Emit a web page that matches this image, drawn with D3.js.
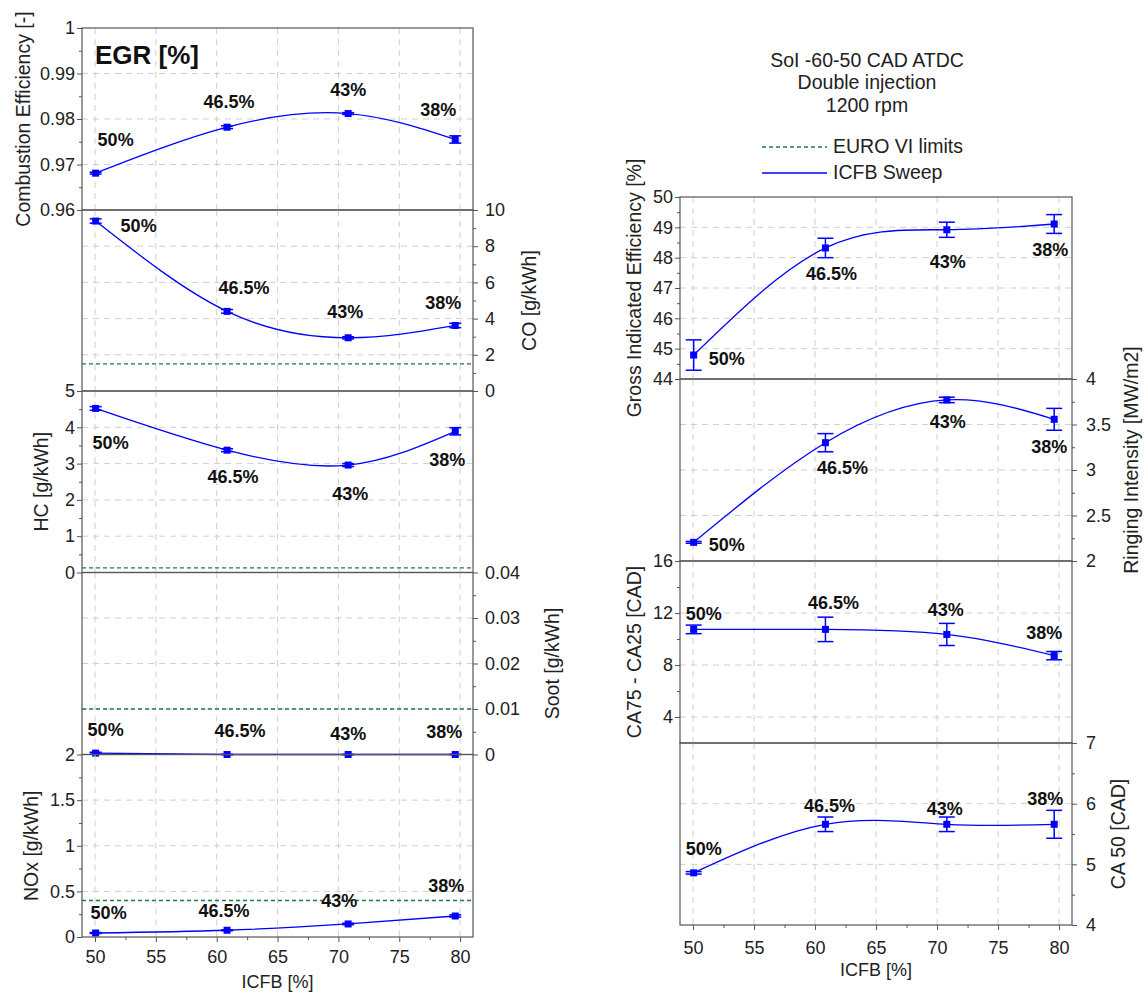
<!DOCTYPE html>
<html lang="en">
<head>
<meta charset="UTF-8">
<script src="https://cdn.jsdelivr.net/npm/d3@7"></script>
<title>ICFB sweep</title>
<style>
  body { margin: 0; background: #fff; }
  svg text { font-family: "Liberation Sans", Arial, sans-serif; }
</style>
</head>
<body>
<script>
    // ICFB sweep, 4 operating points (EGR rate written next to each point)
    const icfb = [50.05, 60.85, 70.8, 79.6];
    const egrLabels = ["50%", "46.5%", "43%", "38%"];
    const xTicks = [50, 55, 60, 65, 70, 75, 80];

    // left column
    const combEff = [0.9681, 0.9782, 0.9812, 0.9755];
    const combEffErr = [0.0002, 0.0003, 0.0002, 0.0008];
    const co = [9.39, 4.40, 2.94, 3.62];
    const coErr = [0.12, 0.10, 0.06, 0.12];
    const hc = [4.52, 3.37, 2.96, 3.89];
    const hcErr = [0.05, 0.04, 0.04, 0.10];
    const soot = [0.0003, 0, 0, 0];
    const sootErr = [0.0002, 0, 0, 0];
    const nox = [0.044, 0.074, 0.143, 0.23];
    const noxErr = [0.005, 0.005, 0.008, 0.012];

    // right column
    const gie = [44.79, 48.32, 48.92, 49.11];
    const gieErr = [0.5, 0.32, 0.25, 0.31];
    const ringing = [2.205, 3.30, 3.77, 3.557];
    const ringingErr = [0.01, 0.10, 0.03, 0.12];
    const ca7525 = [10.74, 10.74, 10.35, 8.72];
    const ca7525Err = [0.33, 0.94, 0.85, 0.32];
    const ca50 = [4.86, 5.66, 5.66, 5.66];
    const ca50Err = [0.02, 0.12, 0.12, 0.23];

    // EURO VI limits [g/kWh]
    const euroCO = 1.5, euroHC = 0.13, euroSoot = 0.01, euroNOx = 0.4;

    // tick labels
    const ceTicks = [0.96, 0.97, 0.98, 0.99, 1];
    const coTicks = [0, 2, 4, 6, 8, 10];
    const hcTicks = [0, 1, 2, 3, 4, 5];
    const sootTicks = [0, 0.01, 0.02, 0.03, 0.04];
    const noxTicks = [0, 0.5, 1, 1.5, 2];
    const gieTicks = [44, 45, 46, 47, 48, 49, 50];
    const ringTicks = [2, 2.5, 3, 3.5, 4];
    const caDurTicks = [4, 8, 12, 16];
    const ca50Ticks = [4, 5, 6, 7];

    const titleLines = ["SoI -60-50 CAD ATDC", "Double injection", "1200 rpm"];
    const legendItems = ["EURO VI limits", "ICFB Sweep"];

    // ---------------- layout ----------------
    const BLUE = "#0000ff", GREEN = "#1b7d48", AXIS = "#555", GRID = "#cfcfcf";
    const xDomain = [48.93, 81.06];
    const cols = [{x0: 82, x1: 473, cap: 12, mark: 7, padL: 2, padR: 7, bottomPad: 8, xTitleY: 988},
                  {x0: 680, x1: 1072, cap: 16, mark: 7, padL: 2, padR: 9, bottomPad: 11, xTitleY: 976}];

    const panels = [
        {col: 0, y0: 28, y1: 210, side: "left", domain: [0.96, 1], ticks: ceTicks,
            title: "Combustion Efficiency [-]", titleX: 30, values: combEff, errs: combEffErr,
            offs: [[20, -33], [2, -25], [0, -24], [-17, -30]]},
        {col: 0, y0: 210, y1: 391, side: "right", domain: [0, 10], ticks: coTicks,
            title: "CO [g/kWh]", titleX: 536, values: co, errs: coErr, limit: euroCO,
            offs: [[43, 5], [17, -24], [-3, -26], [-12, -23]]},
        {col: 0, y0: 391, y1: 572.5, side: "left", domain: [0, 5], ticks: hcTicks,
            title: "HC [g/kWh]", titleX: 48, values: hc, errs: hcErr, limit: euroHC,
            offs: [[15, 34], [6, 27], [2, 29], [-8, 28]]},
        {col: 0, y0: 572.5, y1: 754.5, side: "right", domain: [0, 0.04], ticks: sootTicks,
            title: "Soot [g/kWh]", titleX: 559, values: soot, errs: sootErr, limit: euroSoot,
            offs: [[10, -23], [13, -24], [0, -21], [-11, -23]]},
        {col: 0, y0: 754.5, y1: 937, side: "left", domain: [0, 2], ticks: noxTicks,
            title: "NOx [g/kWh]", titleX: 38, values: nox, errs: noxErr, limit: euroNOx, xAxis: true,
            offs: [[13, -20], [-3, -20], [-9, -23], [-9, -30]]},

        {col: 1, y0: 197, y1: 379, side: "left", domain: [44, 50], ticks: gieTicks,
            title: "Gross Indicated Efficiency [%]", titleX: 641, values: gie, errs: gieErr,
            offs: [[33, 4], [6, 26], [1, 32], [-4, 26]]},
        {col: 1, y0: 379, y1: 561, side: "right", domain: [2, 4], ticks: ringTicks,
            title: "Ringing Intensity [MW/m2]", titleX: 1138, titleShift: -10, values: ringing, errs: ringingErr,
            offs: [[33, 2], [17, 25], [1, 22], [-5, 27]]},
        {col: 1, y0: 561, y1: 743, side: "left", domain: [2, 16], ticks: caDurTicks,
            title: "CA75 - CA25 [CAD]", titleX: 641, values: ca7525, errs: ca7525Err,
            offs: [[10, -16], [8, -27], [-1, -25], [-10, -23]]},
        {col: 1, y0: 743, y1: 925, side: "right", domain: [4, 7], ticks: ca50Ticks,
            title: "CA 50 [CAD]", titleX: 1125, values: ca50, errs: ca50Err, xAxis: true,
            offs: [[10, -24], [4, -19], [-2, -16], [-9, -26]]}
    ];

    const fmt = v => String(+v.toFixed(4));
    // minor ticks halfway between the major ones
    const halves = t => d3.pairs(t).map(([a, b]) => +((a + b) / 2).toFixed(6));

    const svg = d3.select("body").append("svg").attr("width", 1148).attr("height", 994);

    let draw_panel = (p) => {
        const c = cols[p.col];
        const x = d3.scaleLinear().domain(xDomain).range([c.x0, c.x1]);
        const y = d3.scaleLinear().domain(p.domain).range([p.y1, p.y0]);
        const g = svg.append("g");

        // dashed grid
        g.append("g").selectAll("line").data(xTicks).join("line")
            .attr("x1", d => x(d)).attr("x2", d => x(d))
            .attr("y1", p.y0).attr("y2", p.y1)
            .attr("stroke", GRID).attr("stroke-dasharray", "6,5");
        g.append("g").selectAll("line")
            .data(p.ticks.filter(t => t > p.domain[0] && t < p.domain[1])).join("line")
            .attr("x1", c.x0).attr("x2", c.x1)
            .attr("y1", d => y(d)).attr("y2", d => y(d))
            .attr("stroke", GRID).attr("stroke-dasharray", "6,5");

        // EURO VI limit
        if (p.limit !== undefined) {
            g.append("line")
                .attr("x1", c.x0).attr("x2", c.x1)
                .attr("y1", y(p.limit)).attr("y2", y(p.limit))
                .attr("stroke", GREEN).attr("stroke-width", 1.3).attr("stroke-dasharray", "4,3");
        }

        const pts = icfb.map((v, i) => ({x: v, y: p.values[i], e: p.errs[i], lab: egrLabels[i], off: p.offs[i]}));

        // smoothed curve through the points
        const line = d3.line().curve(d3.curveNatural).x(d => x(d.x)).y(d => y(d.y));
        g.append("path").datum(pts).attr("d", line)
            .attr("fill", "none").attr("stroke", BLUE).attr("stroke-width", 1.3);

        // error bars
        const eb = g.append("g").attr("stroke", BLUE).attr("stroke-width", 1.5);
        eb.selectAll(".v").data(pts).join("line").attr("class", "v")
            .attr("x1", d => x(d.x)).attr("x2", d => x(d.x))
            .attr("y1", d => y(d.y - d.e)).attr("y2", d => y(d.y + d.e));
        eb.selectAll(".lo").data(pts).join("line").attr("class", "lo")
            .attr("x1", d => x(d.x) - c.cap / 2).attr("x2", d => x(d.x) + c.cap / 2)
            .attr("y1", d => y(d.y - d.e)).attr("y2", d => y(d.y - d.e));
        eb.selectAll(".hi").data(pts).join("line").attr("class", "hi")
            .attr("x1", d => x(d.x) - c.cap / 2).attr("x2", d => x(d.x) + c.cap / 2)
            .attr("y1", d => y(d.y + d.e)).attr("y2", d => y(d.y + d.e));

        // square markers
        g.append("g").selectAll("rect").data(pts).join("rect")
            .attr("x", d => x(d.x) - c.mark / 2).attr("y", d => y(d.y) - c.mark / 2)
            .attr("width", c.mark).attr("height", c.mark).attr("fill", BLUE);

        // EGR labels
        g.append("g").selectAll("text").data(pts).join("text")
            .attr("x", d => x(d.x) + d.off[0]).attr("y", d => y(d.y) + d.off[1])
            .attr("dy", "0.35em").attr("text-anchor", "middle")
            .attr("font-size", 18).attr("font-weight", "bold").attr("fill", "#111")
            .text(d => d.lab);

        // frame
        g.append("rect").attr("x", c.x0).attr("y", p.y0)
            .attr("width", c.x1 - c.x0).attr("height", p.y1 - p.y0)
            .attr("fill", "none").attr("stroke", AXIS).attr("stroke-width", 1.2);

        // y axis (major + minor)
        const left = p.side === "left";
        const ax = (left ? d3.axisLeft(y) : d3.axisRight(y));
        const axG = g.append("g").attr("transform", `translate(${left ? c.x0 : c.x1},0)`)
            .call(ax.tickValues(p.ticks).tickFormat(fmt).tickSize(5).tickSizeOuter(0)
                .tickPadding(left ? c.padL : c.padR));
        const mnG = g.append("g").attr("transform", `translate(${left ? c.x0 : c.x1},0)`)
            .call((left ? d3.axisLeft(y) : d3.axisRight(y)).tickValues(halves(p.ticks))
                .tickFormat("").tickSize(3).tickSizeOuter(0));
        [axG, mnG].forEach(a => {
            a.select(".domain").remove();
            a.attr("font-family", null).attr("font-size", 18);
            a.selectAll("line").attr("stroke", AXIS);
            a.selectAll("text").attr("fill", "#222");
        });

        // axis title
        const cy = (p.y0 + p.y1) / 2 + (p.titleShift || 0);
        g.append("text")
            .attr("transform", `translate(${p.titleX},${cy}) rotate(-90)`)
            .attr("text-anchor", "middle").attr("font-size", 19.5).attr("fill", "#222")
            .text(p.title);

        // shared x axis under the last panel of the column
        if (p.xAxis) {
            const bx = g.append("g").attr("transform", `translate(0,${p.y1})`)
                .call(d3.axisBottom(x).tickValues(xTicks).tickSize(5).tickSizeOuter(0).tickPadding(c.bottomPad));
            const bm = g.append("g").attr("transform", `translate(0,${p.y1})`)
                .call(d3.axisBottom(x).tickValues(halves(xTicks)).tickFormat("").tickSize(3).tickSizeOuter(0));
            [bx, bm].forEach(a => {
                a.select(".domain").remove();
                a.attr("font-family", null).attr("font-size", 18);
                a.selectAll("line").attr("stroke", AXIS);
                a.selectAll("text").attr("fill", "#222");
            });
            g.append("text").attr("x", (c.x0 + c.x1) / 2).attr("y", c.xTitleY)
                .attr("text-anchor", "middle").attr("font-size", 18).attr("fill", "#222")
                .text("ICFB [%]");
        }
    };

    panels.forEach(draw_panel);

    // EGR [%] caption
    svg.append("text").attr("x", 95).attr("y", 64)
        .attr("font-size", 26).attr("font-weight", "bold").attr("fill", "#111")
        .text("EGR [%]");

    // operating condition text
    svg.append("g").selectAll("text").data(titleLines).join("text")
        .attr("x", 867).attr("y", (d, i) => 66.5 + i * 22.5)
        .attr("text-anchor", "middle").attr("font-size", 19.5).attr("fill", "#222")
        .text(d => d);

    // legend
    const leg = svg.append("g");
    leg.append("line").attr("x1", 762).attr("x2", 827).attr("y1", 147).attr("y2", 147)
        .attr("stroke", GREEN).attr("stroke-width", 1.3).attr("stroke-dasharray", "4,3");
    leg.append("line").attr("x1", 762).attr("x2", 827).attr("y1", 173).attr("y2", 173)
        .attr("stroke", BLUE).attr("stroke-width", 1.5);
    leg.selectAll("text").data(legendItems).join("text")
        .attr("x", 833).attr("y", (d, i) => 153 + i * 26)
        .attr("font-size", 19.5).attr("fill", "#222")
        .text(d => d);
</script>
</body>
</html>
